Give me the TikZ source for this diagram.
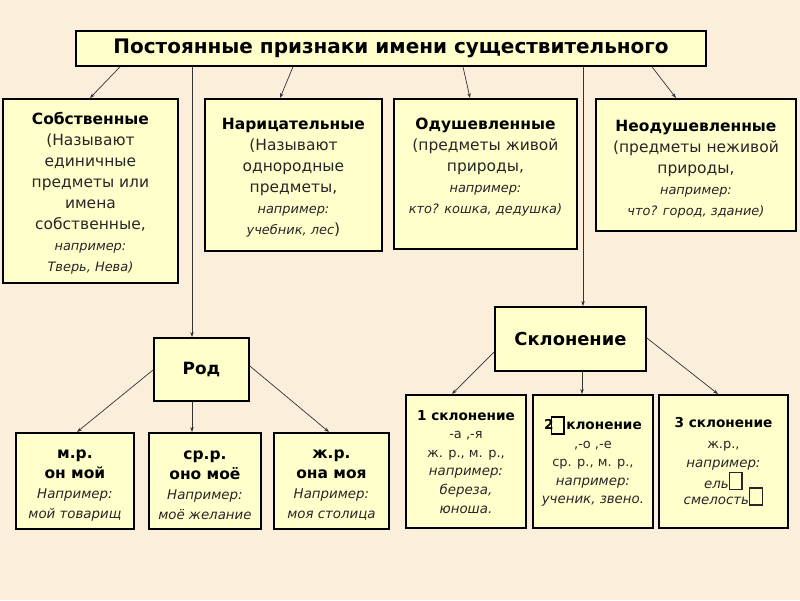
\documentclass[tikz,border=0pt]{standalone}
\usepackage{fontspec}
\setmainfont{DejaVu Sans}
\usetikzlibrary{positioning,calc,arrows.meta}
\definecolor{bgbeige}{HTML}{FBEEDB}
\definecolor{boxyellow}{HTML}{FFFFCC}
\newcommand{\titlefont}{\fontsize{14.2}{16}\selectfont\bfseries}
\newcommand{\hdfont}{\fontsize{11}{14.9}\selectfont\bfseries}
\newcommand{\txfont}{\fontsize{11}{14.9}\selectfont}
\newcommand{\exfont}{\fontsize{9.2}{14.9}\selectfont\itshape}
\newcommand{\smhdfont}{\fontsize{9.7}{13.2}\selectfont\bfseries}
\newcommand{\smtxfont}{\fontsize{9.2}{13.2}\selectfont}
\newcommand{\smexfont}{\fontsize{9.5}{13.2}\selectfont\itshape}
\newcommand{\tofu}[1][0pt]{{\setlength{\fboxsep}{0pt}\setlength{\fboxrule}{1pt}\raisebox{#1}{\fbox{\rule{0pt}{11pt}\hspace{8pt}}}}}
\newcommand{\ydistu}{0.5cm}
\newcommand{\ydistv}{0.35cm}

\tikzset{
  box/.style={rectangle, draw=black, line width=1.3pt, fill=boxyellow,
    anchor=north west, inner sep=0pt},
  txt/.style={align=center, inner sep=0pt, text=black!85},
  uptxt/.style={txt, font=\fontsize{11}{14.9}\selectfont},
  gentxt/.style={txt, font=\fontsize{11}{14.2}\selectfont, yshift=-3pt},
  decltxt/.style={txt, font=\fontsize{9.5}{13.2}\selectfont},
  conn/.style={-{Stealth[length=3.5pt,width=2.5pt]}, line width=0.5pt, draw=black!80}
}

\begin{document}
\begin{tikzpicture}[x=0.025cm, y=-0.025cm]

  % background
  \fill[bgbeige] (0,0) rectangle (800,600);
  \useasboundingbox (0,0) rectangle (800,600);

  %%%%%%%%%%% top level
  % title
  \node [box, minimum width=15.75cm, minimum height=0.875cm] (top) at (75,30) {};
  \node [txt, text=black] (toptxt) at (top.center) {\titlefont Постоянные признаки имени существительного};

  % proper nouns
  \node [box, minimum width=4.375cm, minimum height=4.6cm] (sob) at (2,98) {};
  \node [uptxt, below=\ydistv of sob.north] (sobtxt) {{\hdfont\color{black} Собственные}\\
    {\txfont (Называют}\\ {\txfont единичные}\\ {\txfont предметы или}\\
    {\txfont имена}\\ {\txfont собственные,}\\ {\exfont например:}\\ {\exfont Тверь, Нева)}};

  % common nouns
  \node [box, minimum width=4.425cm, minimum height=3.8cm] (nar) at (204,98) {};
  \node [uptxt, below=\ydistu of nar.north] (nartxt) {{\hdfont\color{black} Нарицательные}\\
    {\txfont (Называют}\\ {\txfont однородные}\\ {\txfont предметы,}\\
    {\exfont например:}\\ {\exfont учебник, лес}{\txfont )}};

  % animate
  \node [box, minimum width=4.575cm, minimum height=3.75cm] (odu) at (393,98) {};
  \node [uptxt, below=\ydistu of odu.north] (odutxt) {{\hdfont\color{black} Одушевленные}\\
    {\txfont (предметы живой}\\ {\txfont природы,}\\
    {\exfont например:}\\ {\exfont кто? кошка, дедушка)}};

  % inanimate
  \node [box, minimum width=5cm, minimum height=3.3cm] (neo) at (595,98) {};
  \node [uptxt, below=0.55cm of neo.north] (neotxt) {{\hdfont\color{black} Неодушевленные}\\
    {\txfont (предметы неживой}\\ {\txfont природы,}\\
    {\exfont например:}\\ {\exfont что? город, здание)}};

  %%%%%%%%%%% gender
  \node [box, minimum width=2.375cm, minimum height=1.575cm] (rod) at (153,337) {};
  \node [txt, text=black] (rodtxt) at (rod.center) {\fontsize{12}{14}\selectfont\bfseries Род};

  \node [box, minimum width=2.95cm, minimum height=2.4cm] (mr) at (15,432) {};
  \node [gentxt] (mrtxt) at (mr.center) {{\hdfont\color{black} м.р.}\\ {\hdfont\color{black} он мой}\\
    {\smexfont Например:}\\ {\smexfont мой товарищ}};

  \node [box, minimum width=2.8cm, minimum height=2.4cm] (sr) at (148,432) {};
  \node [gentxt] (srtxt) at (sr.center) {{\hdfont\color{black} ср.р.}\\ {\hdfont\color{black} оно моё}\\
    {\smexfont Например:}\\ {\smexfont моё желание}};

  \node [box, minimum width=2.875cm, minimum height=2.4cm] (zr) at (273,432) {};
  \node [gentxt] (zrtxt) at (zr.center) {{\hdfont\color{black} ж.р.}\\ {\hdfont\color{black} она моя}\\
    {\smexfont Например:}\\ {\smexfont моя столица}};

  %%%%%%%%%%% declension
  \node [box, minimum width=3.775cm, minimum height=1.6cm] (skl) at (494,306) {};
  \node [txt, text=black] (skltxt) at (skl.center) {\fontsize{12.7}{14}\selectfont\bfseries Склонение};

  \node [box, minimum width=3cm, minimum height=3.325cm] (sa) at (405,394) {};
  \node [decltxt, below=0.4cm of sa.north] (satxt) {{\smhdfont\color{black} 1 склонение}\\
    {\smtxfont -а ,-я}\\ {\smtxfont ж. р., м. р.,}\\ {\smexfont например:}\\
    {\smexfont береза,}\\ {\smexfont юноша.}};

  \node [box, minimum width=3cm, minimum height=3.325cm] (sb) at (532,394) {};
  \node [decltxt, below=0.55cm of sb.north] (sbtxt) {{\smhdfont\color{black} 2\hspace{-2pt}\tofu[-2.5pt]\hspace{1pt}клонение}\\
    {\smtxfont ,-о ,-е}\\ {\smtxfont ср. р., м. р.,}\\ {\smexfont например:}\\
    {\smexfont ученик, звено.}};

  \node [box, minimum width=3.225cm, minimum height=3.325cm] (sc) at (658,394) {};
  \node [decltxt, below=0.58cm of sc.north] (sctxt) {{\smhdfont\color{black} 3 склонение}\\[2pt]
    {\smtxfont ж.р.,}\\ {\smexfont например:}\\
    {\smexfont ель\tofu\hspace{24pt}}\\[-2pt] {\smexfont смелость\tofu\hspace{10pt}}};

  %%%%%%%%%%% connectors
  \draw [conn] ($(top.south west)+(45,0)$) -- ($(sob.north west)+(88,0)$);
  \draw [conn] ($(top.south west)+(218,0)$) -- ($(nar.north west)+(76,0)$);
  \draw [conn] ($(top.south west)+(117,0)$) -- ($(rod.north west)+(39,0)$);
  \draw [conn] ($(top.south west)+(388,0)$) -- ($(odu.north west)+(77,0)$);
  \draw [conn] ($(top.south west)+(508,0)$) -- ($(skl.north west)+(89,0)$);
  \draw [conn] ($(top.south west)+(577,0)$) -- ($(neo.north west)+(81,0)$);

  \draw [conn] ($(rod.north west)+(0,33)$) -- ($(mr.north west)+(62,0)$);
  \draw [conn] ($(rod.south west)+(39,0)$) -- ($(sr.north west)+(44,0)$);
  \draw [conn] ($(rod.north east)+(0,29)$) -- ($(zr.north west)+(56,0)$);

  \draw [conn] ($(skl.north west)+(0,46)$) -- ($(sa.north west)+(47,0)$);
  \draw [conn] ($(skl.south west)+(88,0)$) -- ($(sb.north west)+(50,0)$);
  \draw [conn] ($(skl.north east)+(0,32)$) -- ($(sc.north west)+(60,0)$);

\end{tikzpicture}
\end{document}
